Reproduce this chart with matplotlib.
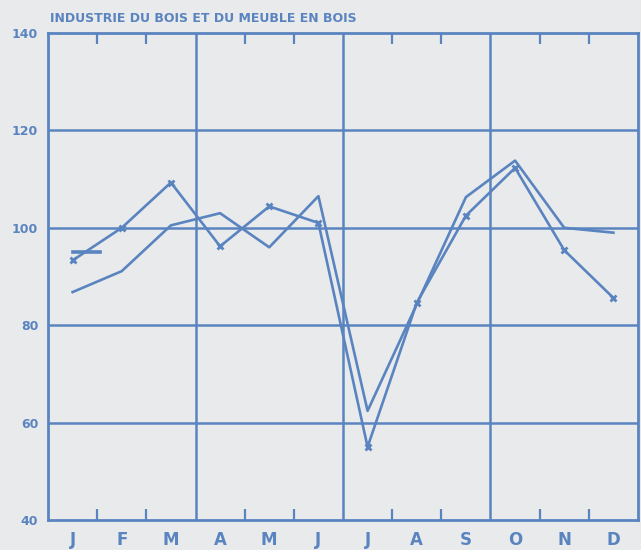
import matplotlib.pyplot as plt
import numpy as np

# months (plotter font draws O as a slashed zero)
months = ["J", "F", "M", "A", "M", "J", "J", "A", "S", "O", "N", "D"]
yticks = [40, 60, 80, 100, 120, 140]

# series with x markers
serie_1 = [93.3, 100, 109.3, 96.2, 104.4, 101, 55, 84.6, 102.5, 112.3, 95.4, 85.6]
# series without markers
serie_2 = [86.8, 91.1, 100.5, 103, 96, 106.5, 62.4, 84.3, 106.3, 113.8, 100, 99]
# short level mark near January
jan_mark_x = [0, 0.55]
jan_mark_y = [95, 95]

blue = '#5a84c0'
bg = '#e9eaec'

fig = plt.figure(figsize=(6.41, 5.5), dpi=100, facecolor=bg)
ax = fig.add_axes([48/641, 30/550, 590/641, 487/550], facecolor=bg)

x = np.arange(len(months))
ax.plot(x, serie_2, color=blue, lw=1.9)
ax.plot(x, serie_1, color=blue, lw=1.9, marker='x', ms=5, mew=2)
ax.plot(jan_mark_x, jan_mark_y, color=blue, lw=2.6)

ax.set_xlim(-0.5, 11.5)
ax.set_ylim(40, 140)

# grid: horizontal every 20, vertical at quarter boundaries
for v in yticks[1:-1]:
    ax.axhline(v, color=blue, lw=1.8, zorder=0)
for q in [2.5, 5.5, 8.5]:
    ax.axvline(q, color=blue, lw=1.8, zorder=0)

for s in ax.spines.values():
    s.set_color(blue)
    s.set_linewidth(2)

ax.set_xticks(x)
ax.set_xticklabels(months)
ax.tick_params(axis='x', length=0, pad=8, labelsize=12, labelcolor=blue)
ax.set_xticks([0.5, 1.5, 3.5, 4.5, 6.5, 7.5, 9.5, 10.5], minor=True)
ax.tick_params(axis='x', which='minor', direction='in', length=8, width=1.6,
               color=blue, top=True, bottom=True)

ax.set_yticks(yticks)
ax.tick_params(axis='y', length=0, pad=7, labelsize=9, labelcolor=blue)
for lab in ax.get_xticklabels() + ax.get_yticklabels():
    lab.set_fontweight('bold')

fig.text(50/641, 1 - 18/550, "INDUSTRIE DU BOIS ET DU MEUBLE EN BOIS",
         color=blue, fontsize=9, fontweight='bold', va='center', ha='left')

plt.savefig("out.png", dpi=100, facecolor=bg)
